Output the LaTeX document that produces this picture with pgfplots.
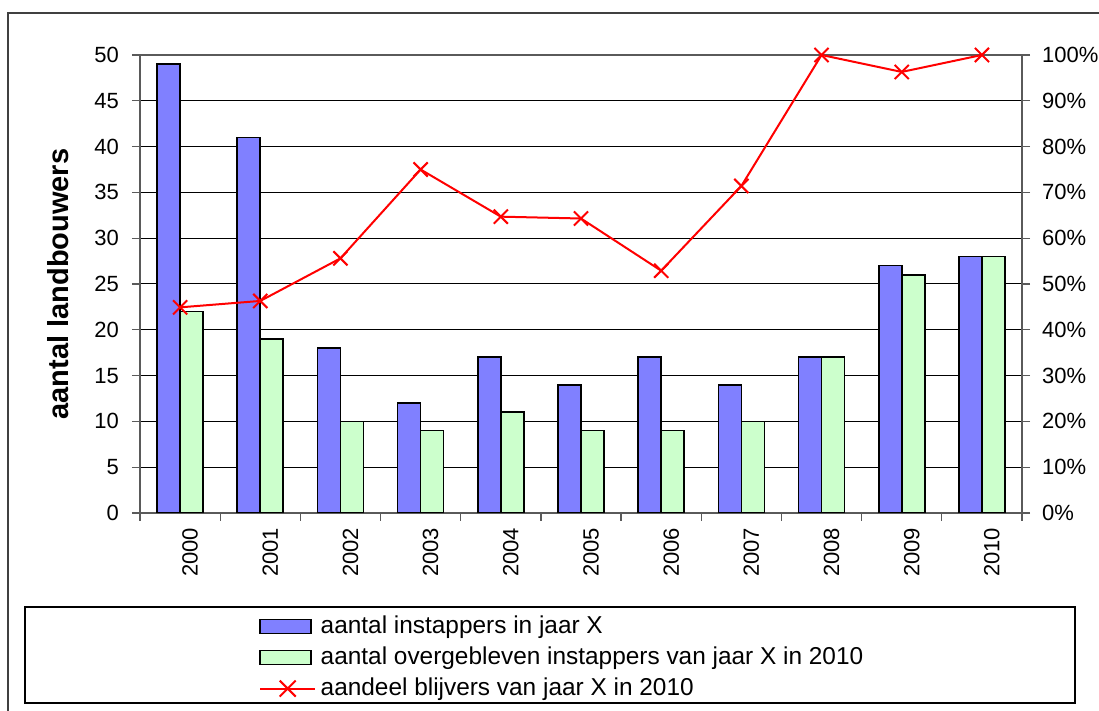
\documentclass[border=0pt]{standalone}
\usepackage{pgfplots}
\pgfplotsset{compat=1.18}
\usepackage{pgfplotstable}
\usepackage{fontspec}
\setmainfont{Liberation Sans}
\definecolor{barblue}{RGB}{128,128,255}
\definecolor{bargreen}{RGB}{204,255,204}
\definecolor{axgray}{RGB}{90,90,90}

\pgfplotstableread{
x inst over share
0 49 22 0.449
1 41 19 0.463
2 18 10 0.556
3 12 9 0.750
4 17 11 0.647
5 14 9 0.643
6 17 9 0.529
7 14 10 0.714
8 17 17 1.000
9 27 26 0.963
10 28 28 1.000
}\datatable

\begin{document}
\begin{tikzpicture}
\useasboundingbox (0,0) rectangle (549.5pt,355.5pt);
\draw[line width=0.8pt, black!75] (4pt,-2pt) -- (4pt,349pt) -- (552pt,349pt);
\draw[line width=0.6pt, black] (12.5pt,4pt) rectangle (537.5pt,52pt);

\begin{axis}[
  at={(70pt,99pt)}, anchor=south west,
  scale only axis, width=441pt, height=229pt,
  xmin=-0.5, xmax=10.5, ymin=0, ymax=50,
  ytick={0,5,10,15,20,25,30,35,40,45,50},
  xtick={0,1,2,3,4,5,6,7,8,9,10},
  xticklabels={2000,2001,2002,2003,2004,2005,2006,2007,2008,2009,2010},
  minor xtick={-0.5,0.5,1.5,2.5,3.5,4.5,5.5,6.5,7.5,8.5,9.5,10.5},
  every major x tick/.append style={draw=none},
  xtick pos=bottom, ytick pos=left,
  tick align=outside,
  major tick length=4pt, minor tick length=4pt,
  tick style={axgray, line width=0.6pt},
  ymajorgrids, grid style={black, line width=0.5pt},
  axis line style={axgray, line width=0.8pt},
  /pgf/number format/assume math mode=true,
  xticklabel style={rotate=90, anchor=east, font=\fontsize{11}{13}\selectfont, yshift=-5pt},
  yticklabel style={font=\fontsize{11}{13}\selectfont, xshift=-3pt},
  ylabel={aantal landbouwers},
  ylabel style={at={(axis description cs:-0.093,0.5)}, anchor=center, font=\fontsize{14.5}{16}\selectfont\bfseries},
  ybar=0pt, bar width=11.5pt,
]
\addplot[fill=barblue, draw=black, line width=0.8pt] table[x=x,y=inst]{\datatable};
\addplot[fill=bargreen, draw=black, line width=0.8pt] table[x=x,y=over]{\datatable};
\end{axis}

\begin{axis}[
  at={(70pt,99pt)}, anchor=south west,
  scale only axis, width=441pt, height=229pt,
  xmin=-0.5, xmax=10.5, ymin=0, ymax=1,
  axis x line=none, axis y line*=right,
  ytick={0,0.1,0.2,0.3,0.4,0.5,0.6,0.7,0.8,0.9,1},
  yticklabels={0\%,10\%,20\%,30\%,40\%,50\%,60\%,70\%,80\%,90\%,100\%},
  tick align=outside, major tick length=4pt,
  tick style={axgray, line width=0.6pt},
  axis line style={axgray, line width=0.8pt},
  yticklabel style={font=\fontsize{11}{13}\selectfont, xshift=2.5pt},
  legend style={at={(axis description cs:0.1347,-0.222)}, anchor=north west,
    draw=none, fill=none, inner sep=0pt, font=\fontsize{12.2}{14}\selectfont,
    row sep=4.2pt, nodes={inner xsep=2.25pt, inner ysep=0.5pt}},
  legend cell align=left,
]
\addlegendimage{legend image code/.code={\draw[fill=barblue, draw=black, line width=0.8pt] (0pt,-3.5pt) rectangle (25.5pt,3.5pt);}}
\addlegendentry{aantal instappers in jaar X}
\addlegendimage{legend image code/.code={\draw[fill=bargreen, draw=black, line width=0.8pt] (0pt,-3.5pt) rectangle (25.5pt,3.5pt);}}
\addlegendentry{aantal overgebleven instappers van jaar X in 2010}
\addplot[red, line width=1pt, mark=x, mark size=5pt,
  legend image code/.code={\draw[red, line width=1pt] (0pt,0pt) -- (27.5pt,0pt); \draw[red, line width=1pt] (9.75pt,-4pt) -- (17.75pt,4pt) (9.75pt,4pt) -- (17.75pt,-4pt);}]
  table[x=x,y=share]{\datatable};
\addlegendentry{aandeel blijvers van jaar X in 2010}
\end{axis}
\end{tikzpicture}
\end{document}
